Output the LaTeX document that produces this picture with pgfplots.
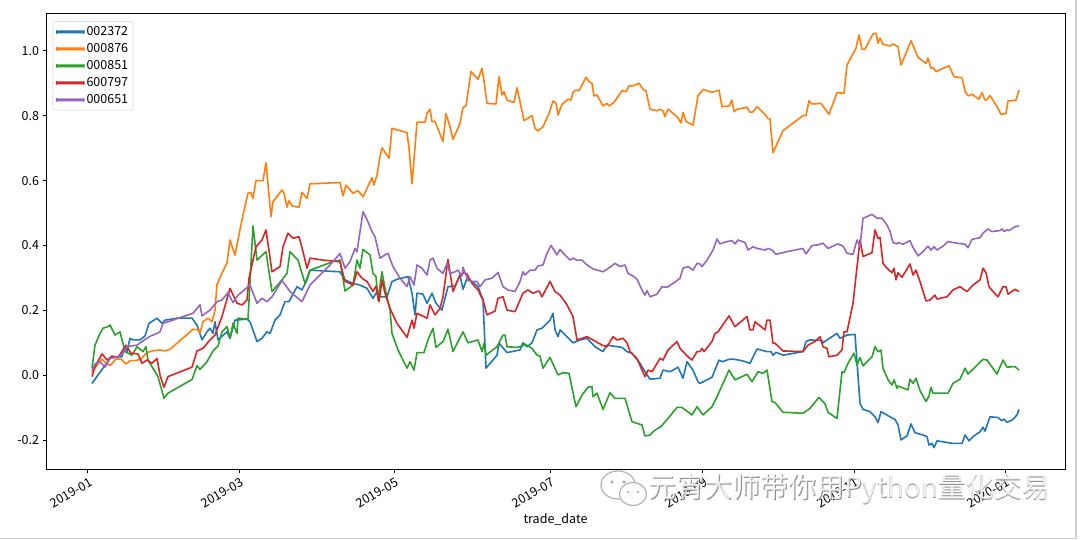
\documentclass[border=0pt]{standalone}
\usepackage{fontspec}
\setmainfont{Noto Sans CJK SC}
\usepackage{pgfplots}
\pgfplotsset{compat=1.18}
\definecolor{cA}{HTML}{1F77B4}
\definecolor{cB}{HTML}{FF7F0E}
\definecolor{cC}{HTML}{2CA02C}
\definecolor{cD}{HTML}{D62728}
\definecolor{cE}{HTML}{9467BD}
\begin{document}
\begin{tikzpicture}[x=1pt,y=1pt]
\useasboundingbox (0,0) rectangle (1080,540);
\fill[white] (0,0) rectangle (1080,540);
\draw[line width=1.5pt, black!18] (0,1.5) -- (1076,1.5) -- (1076,540);
\begin{axis}[
  at={(46pt,70.5pt)}, anchor=south west,
  scale only axis, width=1019pt, height=456.5pt,
  xmin=46, xmax=1065, ymin=-0.2903, ymax=1.1165,
  axis line style={line width=0.8pt, black},
  tick align=outside, xtick pos=bottom, ytick pos=left,
  major tick length=3.5pt,
  every tick/.style={black, line width=0.8pt},
  xtick={87.7,239,394,550,702.7,854.3,1005},
  xticklabels={2019-01,2019-03,2019-05,2019-07,2019-09,2019-11,2020-01},
  ytick={-0.2,0,0.2,0.4,0.6,0.8,1.0},
  /pgf/number format/assume math mode=true,
  yticklabel style={/pgf/number format/fixed, /pgf/number format/fixed zerofill, /pgf/number format/precision=1, font=\fontsize{12.5}{14}\selectfont},
  xticklabel style={rotate=30, anchor=north east, font=\fontsize{12.5}{14}\selectfont, inner sep=1pt, yshift=-3pt},
  scaled y ticks=false,
  xlabel={trade\_date},
  every axis x label/.style={at={(axis description cs:0.5,0)}, anchor=center, yshift=-49.5pt, font=\fontsize{12.5}{14}\selectfont},
  legend style={at={(axis description cs:0,1)}, anchor=north west, xshift=6.7pt, yshift=-8.5pt,
    draw=black!20, rounded corners=2pt, fill=white,
    font=\fontsize{12.5}{14}\selectfont, row sep=2.4pt, inner xsep=3pt, inner ysep=3pt},
  legend cell align=left,
  legend image code/.code={\fill[#1] (0pt,-0.7pt) rectangle (27pt,0.7pt);},
]
\addplot[cA, line width=1.6pt, line join=round] coordinates {
(92,-0.025)(98,0.001)(103,0.022)(110,0.052)(117,0.057)(122,0.057)(125,0.088)(127,0.073)(130,0.114)(133,0.109)
(140,0.109)(145,0.121)(149,0.16)(157,0.176)(162,0.16)(165,0.17)(177,0.176)(192,0.176)(197,0.155)(202,0.109)
(207,0.134)(210,0.145)(213,0.129)(215,0.165)(218,0.109)(227,0.134)(230,0.114)(235,0.17)(247,0.173)(250,0.165)
(257,0.104)(262,0.114)(267,0.134)(270,0.129)(275,0.17)(280,0.186)(285,0.227)(289,0.227)(297,0.273)(302,0.263)
(307,0.294)(310,0.324)(340,0.319)(345,0.294)(353,0.283)(360,0.278)(367,0.268)(373,0.237)(376,0.253)(380,0.242)
(387,0.242)(392,0.289)(398,0.297)(408,0.304)(412,0.253)(415,0.186)(417,0.253)(423,0.25)(427,0.222)(432,0.253)
(436,0.222)(442,0.201)(448,0.273)(455,0.275)(460,0.309)(463,0.265)(467,0.299)(472,0.289)(478,0.273)(483,0.232)
(486,0.022)(497,0.062)(499,0.099)(507,0.07)(520,0.078)(523,0.10)(527,0.088)(532,0.10)(537,0.14)(542,0.145)
(547,0.16)(550,0.17)(553,0.191)(555,0.14)(558,0.119)(560,0.14)(573,0.10)(580,0.109)(587,0.114)(595,0.088)
(603,0.073)(607,0.093)(622,0.086)(627,0.073)(632,0.068)(640,0.037)(645,0.011)(650,-0.012)(660,-0.009)(663,0.016)
(670,0.011)(673,0.016)(678,0.025)(683,-0.009)(687,0.042)(693,0.016)(698,-0.02)(700,-0.025)(712,-0.006)(719,0.047)
(722,0.042)(730,0.05)(735,0.049)(742,0.045)(750,0.037)(757,0.081)(767,0.073)(771,0.073)(773,0.062)(776,0.071)
(783,0.062)(803,0.073)(806,0.104)(810,0.109)(822,0.107)(823,0.10)(828,0.111)(837,0.129)(840,0.114)(847,0.124)
(855,0.126)(860,-0.086)(863,-0.105)(870,-0.112)(875,-0.128)(878,-0.146)(881,-0.112)(890,-0.128)(895,-0.136)(898,-0.153)
(901,-0.199)(907,-0.187)(911,-0.15)(915,-0.177)(923,-0.184)(927,-0.189)(929,-0.215)(932,-0.21)(934,-0.223)(937,-0.202)
(953,-0.21)(962,-0.21)(965,-0.184)(969,-0.202)(973,-0.189)(980,-0.174)(983,-0.16)(985,-0.172)(990,-0.128)(998,-0.13)
(1002,-0.14)(1004,-0.135)(1007,-0.145)(1013,-0.136)(1017,-0.122)(1019,-0.105)
};
\addlegendentry{002372}
\addplot[cB, line width=1.6pt, line join=round] coordinates {
(92,0.01)(98,0.035)(102,0.05)(105,0.04)(110,0.03)(116,0.05)(121,0.05)(126,0.035)(130,0.045)(135,0.045)
(141,0.05)(147,0.07)(152,0.075)(160,0.078)(165,0.075)(170,0.08)(177,0.099)(185,0.12)(193,0.142)(198,0.14)
(200,0.13)(203,0.165)(208,0.176)(212,0.165)(215,0.2)(217,0.28)(222,0.315)(227,0.346)(230,0.417)(235,0.37)
(238,0.417)(242,0.48)(248,0.561)(251,0.563)(253,0.545)(256,0.60)(263,0.60)(266,0.655)(271,0.489)(273,0.535)
(282,0.571)(284,0.561)(287,0.518)(289,0.538)(292,0.522)(299,0.518)(302,0.564)(307,0.545)(310,0.59)(340,0.594)
(343,0.553)(346,0.586)(353,0.561)(358,0.569)(363,0.55)(372,0.609)(374,0.586)(377,0.617)(380,0.674)(382,0.701)
(389,0.669)(392,0.761)(407,0.748)(409,0.70)(412,0.59)(417,0.78)(425,0.78)(427,0.807)(430,0.82)(432,0.782)
(435,0.782)(443,0.72)(446,0.807)(450,0.766)(453,0.727)(460,0.776)(463,0.825)(466,0.83)(471,0.936)(478,0.912)
(482,0.946)(484,0.907)(487,0.838)(496,0.836)(499,0.92)(502,0.864)(504,0.874)(507,0.848)(514,0.841)(517,0.886)
(524,0.785)(532,0.80)(535,0.761)(538,0.753)(543,0.766)(549,0.807)(553,0.845)(556,0.838)(558,0.802)(562,0.835)
(568,0.851)(571,0.848)(573,0.872)(576,0.879)(579,0.877)(586,0.918)(589,0.905)(592,0.90)(594,0.861)(597,0.864)
(603,0.83)(607,0.838)(609,0.83)(614,0.841)(622,0.877)(626,0.874)(629,0.892)(633,0.892)(639,0.90)(643,0.881)
(646,0.876)(650,0.82)(657,0.815)(660,0.82)(663,0.815)(665,0.797)(668,0.82)(677,0.797)(681,0.778)(683,0.81)
(686,0.782)(693,0.771)(698,0.861)(703,0.881)(712,0.872)(719,0.879)(722,0.828)(729,0.83)(732,0.848)(734,0.812)
(737,0.82)(747,0.826)(750,0.81)(753,0.812)(757,0.828)(765,0.804)(768,0.791)(770,0.79)(773,0.686)(783,0.754)
(803,0.80)(806,0.80)(809,0.846)(812,0.836)(821,0.838)(829,0.804)(837,0.871)(844,0.869)(847,0.956)(856,1.008)
(859,1.049)(862,1.005)(865,1.005)(873,1.052)(876,1.054)(878,1.023)(880,1.039)(883,1.02)(890,1.015)(893,1.021)
(898,1.013)(901,0.956)(907,1.00)(911,1.031)(918,0.98)(926,0.961)(928,0.977)(931,0.946)(933,0.949)(936,0.936)
(949,0.954)(954,0.92)(962,0.917)(965,0.876)(968,0.861)(972,0.866)(979,0.851)(982,0.871)(985,0.848)(987,0.85)
(990,0.862)(997,0.828)(1001,0.804)(1006,0.807)(1008,0.845)(1016,0.848)(1019,0.879)
};
\addlegendentry{000876}
\addplot[cC, line width=1.6pt, line join=round] coordinates {
(92,0.022)(95,0.093)(100,0.129)(103,0.145)(108,0.15)(110,0.155)(115,0.124)(120,0.134)(125,0.073)(132,0.062)
(137,0.088)(143,0.073)(146,0.088)(148,0.047)(158,-0.004)(164,-0.071)(168,-0.055)(192,-0.013)(197,0.03)(200,0.018)
(207,0.042)(213,0.075)(218,0.09)(222,0.134)(227,0.15)(230,0.114)(233,0.16)(237,0.129)(238,0.176)(248,0.173)
(253,0.46)(257,0.355)(266,0.381)(272,0.258)(282,0.294)(287,0.314)(290,0.381)(298,0.355)(305,0.283)(310,0.324)
(333,0.35)(340,0.355)(345,0.26)(353,0.278)(357,0.355)(360,0.33)(363,0.388)(370,0.371)(373,0.314)(376,0.304)
(378,0.232)(382,0.319)(385,0.268)(390,0.201)(392,0.129)(398,0.078)(407,0.022)(410,0.042)(414,0.016)(417,0.07)
(424,0.07)(428,0.109)(433,0.145)(436,0.086)(443,0.104)(448,0.142)(453,0.073)(463,0.134)(468,0.10)(478,0.109)
(482,0.073)(484,0.099)(486,0.062)(497,0.088)(503,0.124)(505,0.124)(507,0.088)(517,0.086)(522,0.09)(525,0.096)
(532,0.083)(537,0.062)(540,0.059)(543,0.022)(550,0.055)(558,0.001)(563,0.008)(569,0.006)(576,-0.097)(582,-0.061)
(588,-0.037)(592,-0.035)(593,-0.066)(597,-0.055)(603,-0.105)(610,-0.054)(615,-0.071)(625,-0.071)(632,-0.143)(642,-0.153)
(645,-0.187)(650,-0.184)(655,-0.169)(661,-0.158)(668,-0.133)(677,-0.099)(682,-0.099)(692,-0.122)(697,-0.097)(703,-0.122)
(712,-0.097)(717,-0.066)(723,-0.025)(729,0.016)(735,-0.014)(747,0.003)(752,-0.02)(758,0.011)(763,0.006)(767,0.016)
(772,-0.081)(775,-0.084)(783,-0.114)(803,-0.117)(810,-0.102)(819,-0.068)(825,-0.088)(828,-0.114)(837,-0.133)(842,0.011)
(844,0.008)(848,0.037)(854,0.068)(857,0.032)(860,0.055)(863,0.029)(872,0.057)(875,0.088)(878,0.073)(881,0.078)
(883,0.022)(888,-0.014)(892,-0.03)(894,-0.014)(897,-0.04)(898,-0.033)(908,-0.045)(910,-0.012)(913,-0.025)(916,-0.009)
(920,-0.047)(926,-0.081)(929,-0.064)(931,-0.037)(933,-0.055)(948,-0.055)(953,-0.025)(960,-0.012)(965,0.022)(968,0.004)
(983,0.049)(987,0.047)(997,0.004)(1003,0.047)(1007,0.025)(1015,0.027)(1019,0.016)
};
\addlegendentry{000851}
\addplot[cD, line width=1.6pt, line join=round] coordinates {
(92,-0.004)(95,0.027)(102,0.066)(107,0.047)(112,0.059)(118,0.055)(126,0.093)(131,0.068)(138,0.066)(142,0.037)
(147,0.047)(152,0.037)(157,0.052)(160,0.001)(164,-0.037)(168,-0.004)(192,0.025)(197,0.075)(203,0.083)(210,0.109)
(215,0.124)(222,0.181)(230,0.268)(237,0.222)(242,0.217)(247,0.232)(249,0.299)(256,0.396)(262,0.417)(266,0.448)
(272,0.319)(280,0.335)(283,0.396)(288,0.438)(293,0.422)(299,0.427)(303,0.381)(307,0.33)(310,0.361)(323,0.355)
(340,0.35)(345,0.289)(350,0.283)(353,0.278)(357,0.319)(362,0.299)(367,0.289)(373,0.258)(376,0.275)(379,0.227)
(382,0.294)(385,0.253)(390,0.206)(397,0.16)(407,0.117)(412,0.17)(414,0.145)(417,0.191)(427,0.176)(430,0.217)
(435,0.186)(440,0.206)(443,0.242)(448,0.357)(453,0.258)(460,0.309)(464,0.316)(467,0.312)(472,0.283)(478,0.263)
(483,0.232)(487,0.186)(495,0.198)(498,0.237)(503,0.242)(507,0.201)(515,0.196)(523,0.253)(528,0.263)(533,0.253)
(539,0.26)(542,0.242)(550,0.289)(555,0.258)(560,0.247)(567,0.217)(573,0.181)(577,0.109)(587,0.119)(593,0.109)
(602,0.093)(607,0.088)(613,0.119)(617,0.109)(623,0.114)(627,0.10)(630,0.073)(637,0.052)(642,0.016)(645,-0.004)
(648,0.016)(652,0.011)(660,0.052)(663,0.047)(668,0.078)(677,0.104)(680,0.083)(688,0.057)(692,0.047)(697,0.073)
(700,0.073)(702,0.083)(704,0.073)(712,0.104)(715,0.129)(718,0.134)(729,0.183)(735,0.15)(747,0.181)(750,0.14)
(753,0.14)(755,0.165)(763,0.145)(765,0.14)(767,0.17)(770,0.17)(773,0.099)(775,0.099)(783,0.075)(803,0.073)
(808,0.093)(815,0.104)(820,0.119)(823,0.088)(827,0.083)(829,0.057)(837,0.062)(842,0.078)(844,0.134)(847,0.134)
(853,0.222)(860,0.417)(863,0.366)(872,0.378)(875,0.448)(878,0.422)(880,0.425)(883,0.345)(887,0.33)(892,0.316)
(894,0.33)(896,0.294)(898,0.316)(902,0.302)(910,0.343)(913,0.309)(916,0.324)(920,0.289)(926,0.229)(930,0.232)
(935,0.247)(937,0.235)(947,0.242)(953,0.263)(960,0.273)(967,0.258)(973,0.278)(980,0.294)(983,0.33)(986,0.316)
(989,0.273)(993,0.258)(998,0.242)(1003,0.273)(1006,0.273)(1008,0.25)(1015,0.265)(1019,0.258)
};
\addlegendentry{600797}
\addplot[cE, line width=1.6pt, line join=round] coordinates {
(92,0.016)(95,0.035)(100,0.042)(105,0.025)(110,0.052)(118,0.057)(122,0.065)(127,0.088)(137,0.093)(143,0.106)
(150,0.12)(157,0.129)(160,0.134)(163,0.16)(173,0.17)(183,0.181)(193,0.191)(200,0.217)(202,0.183)(210,0.201)
(217,0.227)(222,0.232)(228,0.255)(233,0.224)(238,0.247)(250,0.278)(257,0.222)(262,0.237)(267,0.227)(272,0.242)
(282,0.292)(290,0.258)(302,0.227)(310,0.278)(320,0.309)(330,0.34)(340,0.375)(345,0.33)(350,0.35)(355,0.391)
(357,0.381)(363,0.504)(368,0.473)(372,0.443)(375,0.427)(380,0.361)(385,0.371)(388,0.376)(393,0.335)(400,0.299)
(407,0.273)(410,0.304)(414,0.278)(417,0.34)(422,0.33)(427,0.309)(430,0.355)(433,0.361)(437,0.33)(443,0.314)
(447,0.345)(450,0.314)(455,0.319)(458,0.324)(462,0.306)(463,0.333)(468,0.292)(473,0.289)(477,0.289)(480,0.273)
(485,0.294)(492,0.299)(498,0.317)(503,0.273)(508,0.263)(515,0.258)(520,0.289)(523,0.319)(525,0.309)(530,0.324)
(535,0.324)(538,0.337)(543,0.34)(547,0.376)(551,0.40)(554,0.386)(557,0.371)(560,0.388)(565,0.371)(570,0.355)
(573,0.361)(577,0.355)(582,0.355)(587,0.34)(593,0.328)(603,0.319)(610,0.333)(615,0.345)(620,0.335)(625,0.34)
(628,0.314)(633,0.306)(637,0.296)(642,0.263)(645,0.247)(647,0.261)(650,0.242)(657,0.25)(662,0.273)(667,0.271)
(673,0.283)(680,0.299)(683,0.33)(688,0.335)(693,0.324)(697,0.345)(700,0.343)(702,0.335)(707,0.355)(713,0.386)
(717,0.42)(720,0.405)(727,0.412)(732,0.415)(735,0.405)(738,0.417)(745,0.409)(748,0.386)(753,0.396)(757,0.391)
(765,0.386)(768,0.391)(772,0.386)(776,0.373)(787,0.381)(803,0.391)(806,0.374)(812,0.40)(818,0.402)(823,0.407)
(828,0.391)(838,0.405)(843,0.398)(847,0.376)(853,0.373)(857,0.417)(860,0.396)(863,0.484)(867,0.489)(872,0.496)
(877,0.484)(882,0.484)(887,0.463)(890,0.443)(893,0.409)(897,0.405)(898,0.409)(903,0.404)(910,0.415)(913,0.394)
(918,0.368)(923,0.381)(928,0.398)(931,0.386)(934,0.396)(937,0.386)(943,0.398)(948,0.412)(957,0.407)(965,0.404)
(968,0.393)(972,0.419)(980,0.424)(983,0.438)(988,0.451)(992,0.443)(1000,0.446)(1002,0.451)(1004,0.443)(1007,0.448)
(1009,0.446)(1015,0.458)(1019,0.46)
};
\addlegendentry{000651}
\end{axis}
% watermark
\begin{scope}[line width=1.2pt]
\draw[black!30, fill=white, fill opacity=0.85] (618,55) ellipse [x radius=17, y radius=14];
\draw[black!30, fill=white, fill opacity=0.85] (633,46) ellipse [x radius=13.5, y radius=11.5];
\fill[black!30] (612,58) circle (1.8) (624,58) circle (1.8) (628,48) circle (1.4) (638,48) circle (1.4);
\end{scope}
\node[text=black!45, font=\fontsize{28}{32}\selectfont, inner sep=0pt] at (850,50.2) {元宵大师带你用Python量化交易};
\node[text=white, font=\fontsize{28}{32}\selectfont, inner sep=0pt, opacity=0.85] at (849.3,50.9) {元宵大师带你用Python量化交易};
\end{tikzpicture}
\end{document}
